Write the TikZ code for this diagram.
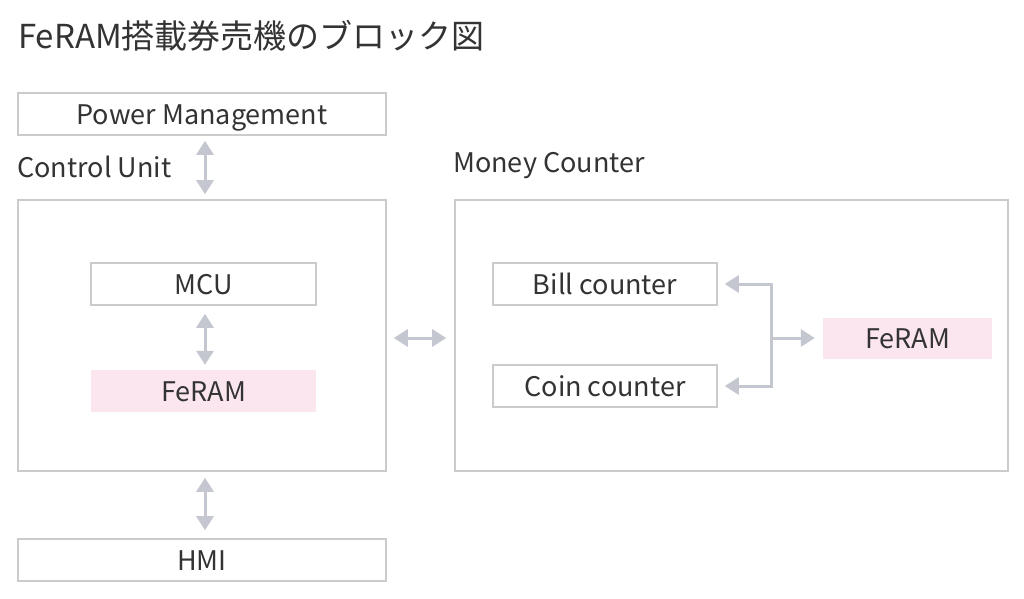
\documentclass[tikz,border=0pt]{standalone}
\usepackage{fontspec}
\setmainfont{Noto Sans CJK JP}
\usetikzlibrary{arrows.meta,calc}
\definecolor{txt}{HTML}{333333}
\definecolor{bord}{HTML}{CBCBCB}
\definecolor{arrc}{HTML}{C4C7CF}
\definecolor{pinkf}{HTML}{FBE6EF}
\tikzset{
  box/.style={draw=bord, line width=1.6pt, fill=white, text=txt, inner sep=0pt,
    font=\fontsize{27}{32}\selectfont, text height=20pt, text depth=0pt},
  pinkbox/.style={fill=pinkf, text=txt, inner sep=0pt, font=\fontsize{27}{32}\selectfont,
    text height=20pt, text depth=0pt},
  frame/.style={draw=bord, line width=1.6pt, inner sep=0pt},
  lbl/.style={text=txt, inner sep=0pt, font=\fontsize{27}{32}\selectfont},
  arr/.style={draw=arrc, line width=3pt, {Triangle[length=14pt,width=17pt]}-{Triangle[length=14pt,width=17pt]}},
  arrone/.style={draw=arrc, line width=3pt, -{Triangle[length=14pt,width=17pt]}},
}
\begin{document}
\begin{tikzpicture}[x=1pt,y=-1pt]
\useasboundingbox[fill=white] (0,0) rectangle (1024,598);
\node[anchor=base west, text=txt, inner sep=0pt, font=\fontsize{33}{38}\selectfont] (title) at (18,48) {FeRAM搭載券売機のブロック図};
% Control unit side
\node[box, minimum width=368pt, minimum height=42pt] (pm) at (202,114) {Power Management};
\node[lbl, anchor=base west] (cul) at (17,177) {Control Unit};
\node[frame, minimum width=368pt, minimum height=271pt] (cu) at (202,335.5) {};
\node[box, minimum width=225pt, minimum height=42pt] (mcu) at (203.5,284) {MCU};
\node[pinkbox, minimum width=225pt, minimum height=42pt] (fe1) at (203.5,391) {FeRAM};
\node[box, minimum width=368pt, minimum height=42pt] (hmi) at (202,560) {HMI};
% Money counter side
\node[lbl, anchor=base west] (mcl) at (453,172) {Money Counter};
\node[frame, minimum width=553pt, minimum height=271pt] (mc) at (731.5,335.5) {};
\node[box, minimum width=224pt, minimum height=42pt] (bill) at (605,284) {Bill counter};
\node[box, minimum width=224pt, minimum height=42pt] (coin) at (605,386) {Coin counter};
\node[pinkbox, minimum width=169pt, minimum height=41pt] (fe2) at (907.5,338.5) {FeRAM};
\coordinate (j) at (771,338);
% connectors
\draw[arr, shorten <=5pt, shorten >=5pt] ([xshift=3pt]pm.south) -- ([xshift=3pt]pm.south |- cu.north);
\draw[arr, shorten <=8pt, shorten >=5pt] ([xshift=1.5pt]mcu.south) -- ([xshift=1.5pt]fe1.north);
\draw[arr, shorten <=6pt, shorten >=8pt] ([xshift=3pt]cu.south) -- ([xshift=3pt]hmi.north);
\draw[arr, shorten <=7pt, shorten >=8pt] (cu.east |- j) -- (mc.west |- j);
\draw[arr] ([xshift=7pt]bill.east) -| (j) |- ([xshift=7pt]coin.east);
\draw[arrone, shorten >=8pt] (j) -- (fe2.west |- j);
\end{tikzpicture}
\end{document}
